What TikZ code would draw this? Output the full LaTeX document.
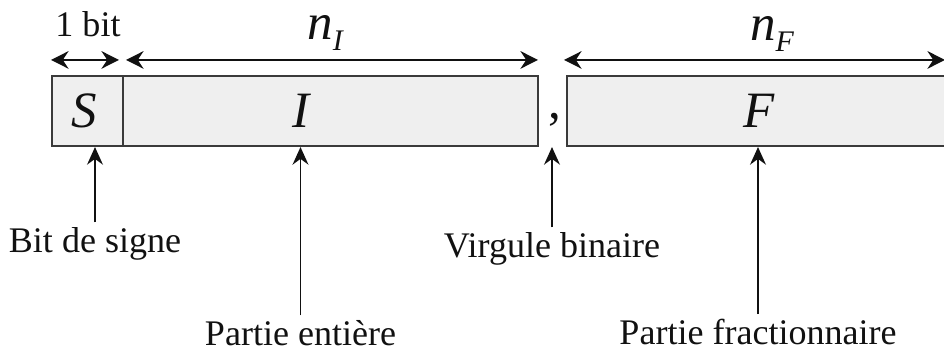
\documentclass[tikz,border=0pt]{standalone}
\usepackage{fontspec}
\setmainfont{Liberation Serif}
\usetikzlibrary{arrows.meta,positioning}
\definecolor{fxink}{HTML}{111111}
\definecolor{fxedge}{HTML}{3A3A3A}
\definecolor{fxfill}{HTML}{EFEFEF}
\tikzset{
  % the three fields of the word
  fx field/.style={
    draw=fxedge, line width=1.2pt, fill=fxfill, rectangle,
    minimum height=1.4cm, inner sep=0pt,
  },
  % widths written above the word
  fx span/.style={
    draw=fxink, line width=1.1pt,
    {Stealth[length=10pt,width=10pt]}-{Stealth[length=10pt,width=10pt]},
  },
  % captions pointing up at a field
  fx pointer/.style={
    draw=fxink, line width=1.1pt,
    -{Stealth[length=10pt,width=9pt]},
  },
  fx letter/.style={
    font=\fontsize{29}{30}\selectfont\itshape, text=fxink,
    inner sep=0pt, anchor=base,
  },
  fx caption/.style={
    font=\fontsize{20.5}{23}\selectfont, text=fxink,
    inner sep=3pt, anchor=base,
  },
}

\begin{document}
\begin{tikzpicture}[x=1cm,y=1cm]
  \useasboundingbox (0,0) rectangle (18.88,7.08);

  % ---- the word ------------------------------------------------------------
  \node[fx field,minimum width=1.42cm] (sbox) at (1.75,4.86) {};
  \node[fx field,minimum width=8.30cm] (ibox) at (6.61,4.86) {};
  \node[fx field,minimum width=7.61cm] (fbox) at (15.145,4.86) {};

  \node[fx letter] (sname) at (1.68,4.52) {S};
  \node[fx letter] (iname) at (6.02,4.52) {I};
  \node[fx letter] (fname) at (15.18,4.52) {F};
  \node[fx letter,font=\fontsize{29}{30}\selectfont] (comma) at (11.10,4.70) {,};

  % ---- widths ----------------------------------------------------------------
  \draw[fx span] ([yshift=0.30cm]sbox.north west)
    -- ([xshift=-0.10cm,yshift=0.30cm]sbox.north east);
  \draw[fx span] ([xshift=0.08cm,yshift=0.30cm]ibox.north west)
    -- ([xshift=-0.02cm,yshift=0.30cm]ibox.north east);
  \draw[fx span] ([xshift=-0.04cm,yshift=0.30cm]fbox.north west)
    -- ([xshift=-0.07cm,yshift=0.30cm]fbox.north east);

  \node[fx caption] (onebit) at (1.76,6.34) {1 bit};
  \node[fx letter] (nint) at (6.50,6.28)
    {n\raisebox{-0.2em}{\fontsize{17}{18}\selectfont I}};
  \node[fx letter] (nfrac) at (15.44,6.26)
    {n\raisebox{-0.2em}{\fontsize{17}{18}\selectfont F}};

  % ---- what each part is -----------------------------------------------------
  \node[fx caption] (sign)     at (1.90,2.02)  {Bit de signe};
  \node[fx caption] (intpart)  at (6.01,0.16)  {Partie entière};
  \node[fx caption] (point)    at (11.04,1.92) {Virgule binaire};
  \node[fx caption] (fracpart) at (15.16,0.18) {Partie fractionnaire};

  \draw[fx pointer] (sign.north) -- (sign.north |- sbox.south);
  \draw[fx pointer] (intpart.north) -- (intpart.north |- ibox.south);
  \draw[fx pointer] (point.north) -- (point.north |- ibox.south);
  \draw[fx pointer] (fracpart.north) -- (fracpart.north |- fbox.south);

\end{tikzpicture}
\end{document}
